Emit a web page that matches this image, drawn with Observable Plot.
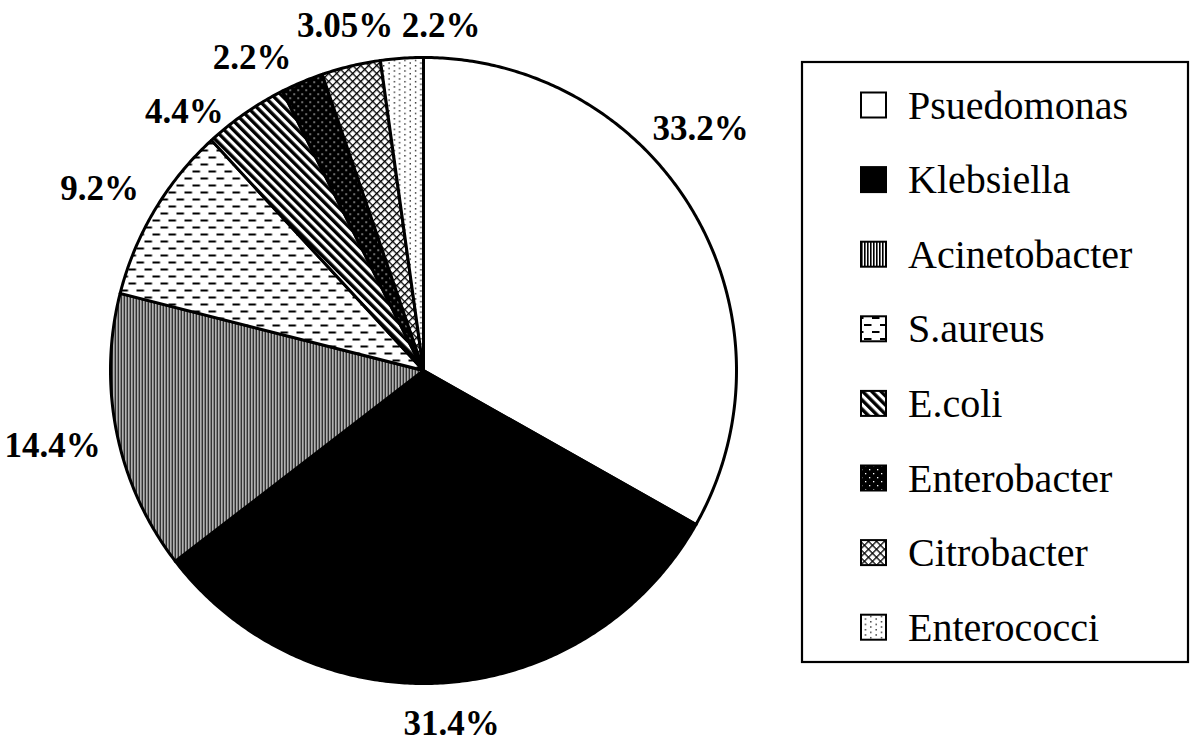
<!DOCTYPE html>
<html><head><meta charset="utf-8">
<script src="https://cdn.jsdelivr.net/npm/d3@7"></script>
<script src="https://cdn.jsdelivr.net/npm/@observablehq/plot@0.6"></script>
<style>body{margin:0;background:#fff;} svg{display:block}</style>
</head><body><div id="chart"></div>
<script>
// ---- data ----
const categories = ["Psuedomonas","Klebsiella","Acinetobacter","S.aureus","E.coli","Enterobacter","Citrobacter","Enterococci"];
const values = [33.2, 31.4, 14.4, 9.2, 4.4, 2.2, 3.05, 2.2];
const labels = ["33.2%","31.4%","14.4%","9.2%","4.4%","2.2%","3.05%","2.2%"];
// ---- styling / layout ----
const fills = ["white","black","url(#p-vert)","url(#p-dash)","url(#p-diag)","url(#p-bdots)","url(#p-cross)","url(#p-wdots)"];
const labelNudgeDeg = [-10.8, -0.5, 0.1, -1.5, -8.0, -5.9, 0.6, 6.9];
const labelRadius = [1.174, 1.131, 1.209, 1.187, 1.126, 1.138, 1.131, 1.104];

const rows = categories.map((name, i) => ({name, value: values[i], label: labels[i], fill: fills[i], i}));
const arcs = d3.pie().sort(null).value(d => d.value)(rows);

const pts = [];
for (const a of arcs) {
  const n = Math.max(4, Math.ceil((a.endAngle - a.startAngle) / (Math.PI / 360)));
  pts.push({name: a.data.name, fill: a.data.fill, x: 0, y: 0});
  for (let k = 0; k <= n; k++) {
    const t = a.startAngle + (a.endAngle - a.startAngle) * k / n;
    pts.push({name: a.data.name, fill: a.data.fill, x: Math.sin(t), y: Math.cos(t)});
  }
  pts.push({name: a.data.name, fill: a.data.fill, x: 0, y: 0});
}
const labelRows = arcs.map(a => {
  const i = a.data.i;
  const t = (a.startAngle + a.endAngle) / 2 + labelNudgeDeg[i] * Math.PI / 180;
  return {label: a.data.label, x: labelRadius[i] * Math.sin(t), y: labelRadius[i] * Math.cos(t)};
});

const svgNode = Plot.plot({
  width: 1200,
  height: 755,
  x: {domain: [-1, 1], range: [110, 736], axis: null},
  y: {domain: [-1, 1], range: [683, 57], axis: null},
  color: {type: "identity"},
  style: {background: "white"},
  marks: [
    Plot.line(pts, {x: "x", y: "y", z: "name", fill: "fill", stroke: "black", strokeWidth: 3, strokeLinejoin: "round"}),
    Plot.text(labelRows, {x: "x", y: "y", text: "label", fontSize: 35, fontWeight: "bold", fontFamily: "Liberation Serif, Times New Roman, serif", fill: "black", textAnchor: "middle", lineAnchor: "middle"})
  ]
});
document.getElementById("chart").appendChild(svgNode);

const svg = d3.select(svgNode);
const defs = svg.insert("defs", ":first-child");
function pat(id, w, h, bg, transform) {
  const p = defs.append("pattern").attr("id", id).attr("patternUnits", "userSpaceOnUse").attr("width", w).attr("height", h);
  if (transform) p.attr("patternTransform", transform);
  p.append("rect").attr("width", w).attr("height", h).attr("fill", bg);
  return p;
}
let p;
p = pat("p-vert", 3, 3, "white");
p.append("rect").attr("width", 1.6).attr("height", 3).attr("fill", "black");
p = pat("p-dash", 16, 14, "white");
p.append("rect").attr("x", 0).attr("y", 2).attr("width", 7.5).attr("height", 2).attr("fill", "black");
p.append("rect").attr("x", 8).attr("y", 9).attr("width", 7.5).attr("height", 2).attr("fill", "black");
p = pat("p-diag", 6.5, 6.5, "white", "rotate(-45)");
p.append("rect").attr("width", 3.4).attr("height", 6.5).attr("fill", "black");
p = pat("p-bdots", 8, 8, "black");
p.append("rect").attr("x", 1).attr("y", 1).attr("width", 1.3).attr("height", 1.3).attr("fill", "white");
p.append("rect").attr("x", 5).attr("y", 5).attr("width", 1.3).attr("height", 1.3).attr("fill", "white");
p = pat("p-cross", 5.66, 5.66, "white", "rotate(45)");
p.append("rect").attr("width", 5.66).attr("height", 1.3).attr("fill", "black");
p.append("rect").attr("width", 1.3).attr("height", 5.66).attr("fill", "black");
p = pat("p-wdots", 10.6, 5.3, "white");
p.append("rect").attr("x", 1).attr("y", 1).attr("width", 1.3).attr("height", 1.3).attr("fill", "black");
p.append("rect").attr("x", 6.3).attr("y", 3.65).attr("width", 1.3).attr("height", 1.3).attr("fill", "black");

// ---- legend ----
const lg = svg.append("g").attr("text-anchor", "start");
lg.append("rect").attr("x", 802).attr("y", 62).attr("width", 386).attr("height", 600)
  .attr("fill", "white").attr("stroke", "black").attr("stroke-width", 2.2);
rows.forEach((d, i) => {
  const cy = 105 + i * 74.6;
  lg.append("rect").attr("x", 861).attr("y", cy - 12.5).attr("width", 25).attr("height", 25)
    .attr("fill", d.fill).attr("stroke", "black").attr("stroke-width", 2);
  lg.append("text").attr("x", 908).attr("y", cy + 13.5).attr("text-anchor", "start").text(d.name)
    .attr("font-family", "Liberation Serif, Times New Roman, serif").attr("font-size", 40).attr("fill", "black");
});
</script>
</body></html>
